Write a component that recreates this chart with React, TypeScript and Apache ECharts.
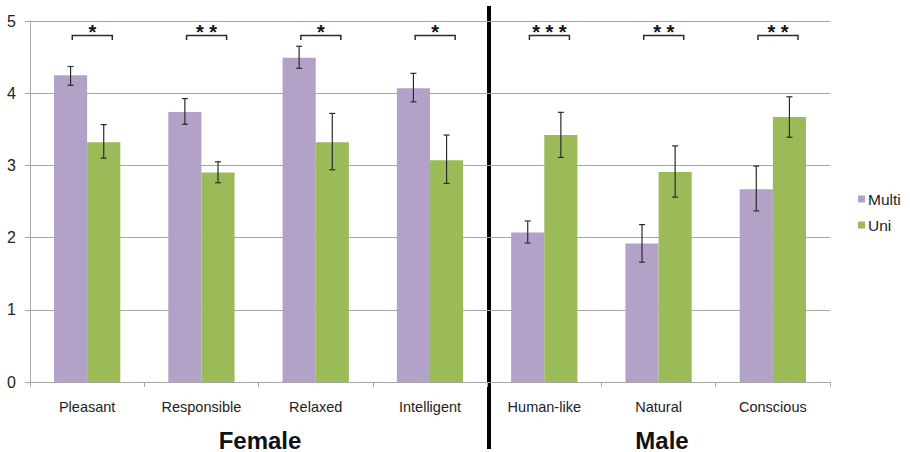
import React, { useEffect, useRef } from "react";
import * as echarts from "echarts";

const categories = ["Pleasant", "Responsible", "Relaxed", "Intelligent", "Human-like", "Natural", "Conscious"];
const multiValues = [4.25, 3.74, 4.49, 4.07, 2.07, 1.92, 2.67];
const uniValues = [3.32, 2.9, 3.32, 3.07, 3.42, 2.91, 3.67];
const multiErrLow = [4.11, 3.57, 4.345, 3.88, 1.925, 1.66, 2.37];
const multiErrHigh = [4.37, 3.925, 4.65, 4.275, 2.23, 2.18, 2.99];
const uniErrLow = [3.1, 2.76, 2.94, 2.75, 3.11, 2.56, 3.39];
const uniErrHigh = [3.565, 3.05, 3.72, 3.42, 3.735, 3.27, 3.95];
const significance = ["*", "**", "*", "*", "***", "**", "**"];
const bracketLevel = 4.8;
const groupLabels = ["Female", "Male"];
const yTicks = [0, 1, 2, 3, 4, 5];

const PURPLE = "#B3A2C7";
const GREEN = "#9BBB59";
const GRID = "#A6A6A6";
const FONT = "Liberation Sans, Arial, sans-serif";

function errorSeries(name: string, lows: number[], highs: number[], offset: number) {
  return {
    type: "custom",
    name: name + "-err",
    z: 5,
    silent: true,
    data: lows.map((lo, i) => [i, lo, highs[i]]),
    renderItem: (params: any, api: any) => {
      const idx = api.value(0);
      const band = api.size([1, 0])[0];
      const x = api.coord([idx, 0])[0] + offset * band;
      const yLo = api.coord([idx, api.value(1)])[1];
      const yHi = api.coord([idx, api.value(2)])[1];
      const cap = 3;
      const style = { stroke: "#2b2b2b", lineWidth: 1.2 };
      return {
        type: "group",
        children: [
          { type: "line", shape: { x1: x, y1: yLo, x2: x, y2: yHi }, style },
          { type: "line", shape: { x1: x - cap, y1: yLo, x2: x + cap, y2: yLo }, style },
          { type: "line", shape: { x1: x - cap, y1: yHi, x2: x + cap, y2: yHi }, style },
        ],
      };
    },
  };
}

export default function App() {
  const ref = useRef<HTMLDivElement>(null);
  useEffect(() => {
    if (!ref.current) return;
    const chart = echarts.init(ref.current, null, { renderer: "svg" });
    const option: any = {
      animation: false,
      backgroundColor: "#ffffff",
      grid: { left: 30, top: 21, width: 800, height: 361, containLabel: false },
      legend: {
        orient: "vertical",
        left: 853,
        top: 186,
        itemWidth: 7,
        itemHeight: 7,
        itemGap: 10,
        icon: "rect",
        data: ["Multi", "Uni"],
        textStyle: { fontFamily: FONT, fontSize: 15.5, color: "#222", padding: [0, 0, 0, -2] },
      },
      xAxis: {
        type: "category",
        data: categories,
        axisLine: { lineStyle: { color: GRID, width: 1 } },
        axisTick: { show: true, length: 5, lineStyle: { color: GRID } },
        axisLabel: { fontFamily: FONT, fontSize: 14.5, color: "#222", margin: 17 },
      },
      yAxis: {
        type: "value",
        min: yTicks[0],
        max: yTicks[yTicks.length - 1],
        interval: 1,
        axisLine: { show: true, lineStyle: { color: GRID, width: 1 } },
        axisTick: { show: true, length: 5, lineStyle: { color: GRID } },
        splitLine: { lineStyle: { color: GRID, width: 1 } },
        axisLabel: { fontFamily: FONT, fontSize: 16, color: "#222", margin: 14 },
      },
      series: [
        {
          type: "bar",
          name: "Multi",
          data: multiValues,
          barWidth: "29%",
          barGap: "0%",
          itemStyle: { color: PURPLE },
        },
        {
          type: "bar",
          name: "Uni",
          data: uniValues,
          barWidth: "29%",
          barGap: "0%",
          itemStyle: { color: GREEN },
        },
        errorSeries("Multi", multiErrLow, multiErrHigh, -0.145),
        errorSeries("Uni", uniErrLow, uniErrHigh, 0.145),
        {
          type: "custom",
          name: "sig",
          z: 6,
          silent: true,
          data: significance.map((_, i) => [i, bracketLevel]),
          renderItem: (params: any, api: any) => {
            const idx = api.value(0);
            const band = api.size([1, 0])[0];
            const [xc, y] = api.coord([idx, api.value(1)]);
            const xl = xc - 0.13 * band;
            const xr = xc + 0.22 * band;
            const stars = significance[params.dataIndex].split("").join(" ");
            return {
              type: "group",
              children: [
                {
                  type: "polyline",
                  shape: { points: [[xl, y + 4.5], [xl, y], [xr, y], [xr, y + 4.5]] },
                  style: { stroke: "#2b2b2b", lineWidth: 1.5, fill: null },
                },
                {
                  type: "text",
                  style: {
                    x: (xl + xr) / 2,
                    y: y - 3,
                    text: stars,
                    fontFamily: FONT,
                    fontWeight: "bold",
                    fontSize: 20,
                    fill: "#111",
                    align: "center",
                    verticalAlign: "middle",
                  },
                },
              ],
            };
          },
        },
      ],
      graphic: [
        { type: "rect", left: 487, top: 6, shape: { width: 4, height: 443 }, style: { fill: "#000" } },
        {
          type: "text",
          style: { text: groupLabels[0], fontFamily: FONT, fontWeight: "bold", fontSize: 24, fill: "#111", x: 260, y: 440, align: "center", verticalAlign: "middle" },
        },
        {
          type: "text",
          style: { text: groupLabels[1], fontFamily: FONT, fontWeight: "bold", fontSize: 24, fill: "#111", x: 662, y: 440, align: "center", verticalAlign: "middle" },
        },
      ],
    };
    chart.setOption(option);
    return () => chart.dispose();
  }, []);
  return <div ref={ref} style={{ position: "fixed", left: 0, top: 0, width: 910, height: 452 }} />;
}
